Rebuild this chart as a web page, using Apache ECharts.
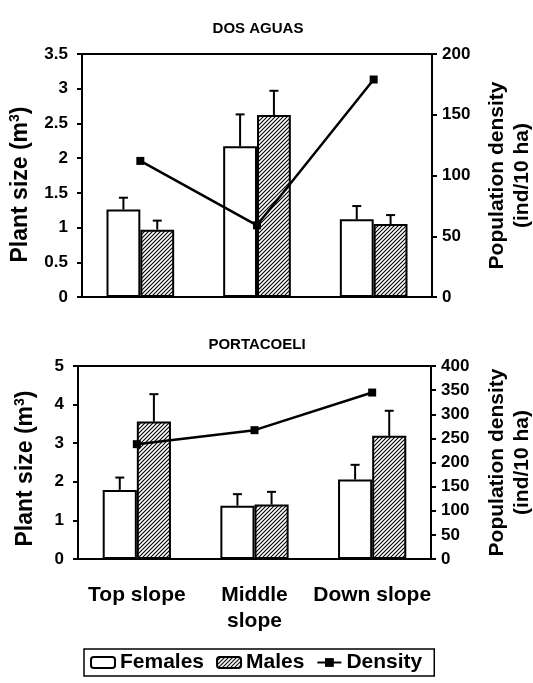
<!DOCTYPE html>
<html>
<head>
<meta charset="utf-8">
<script src="https://cdn.jsdelivr.net/npm/echarts@6/dist/echarts.min.js"></script>
<style>
html,body{margin:0;padding:0;background:#fff;}
#chart{width:533px;height:683px;}
</style>
</head>
<body>
<div id="chart"></div>
<script>
// ---- data ----
const categories = ['Top slope', 'Middle\nslope', 'Down slope'];
const sizeTicksTop = [0, 3.5, 0.5];     // min, max, interval
const densTicksTop = [0, 200, 50];
const sizeTicksBottom = [0, 5, 1];
const densTicksBottom = [0, 400, 50];

const dosFemales   = [1.26, 2.17, 1.12];
const dosFemalesSE = [0.17, 0.46, 0.19];
const dosMales     = [0.97, 2.62, 1.05];
const dosMalesSE   = [0.13, 0.35, 0.13];
const dosDensity   = [112, 59, 179];

const portaFemales   = [1.79, 1.38, 2.06];
const portaFemalesSE = [0.32, 0.30, 0.38];
const portaMales     = [3.56, 1.41, 3.19];
const portaMalesSE   = [0.71, 0.33, 0.65];
const portaDensity   = [238, 267, 345];

// ---- style ----
const FONT = '"Liberation Sans", Arial, Helvetica, sans-serif';
const BAR_PCT = 0.29;

function makeHatch() {
  const s = 4;
  const c = document.createElement('canvas');
  c.width = s; c.height = s;
  const g = c.getContext('2d');
  g.fillStyle = '#fff';
  g.fillRect(0, 0, s, s);
  g.strokeStyle = '#000';
  g.lineWidth = 1.1;
  g.beginPath();
  g.moveTo(0, s); g.lineTo(s, 0);
  g.moveTo(-1, 1); g.lineTo(1, -1);
  g.moveTo(s - 1, s + 1); g.lineTo(s + 1, s - 1);
  g.stroke();
  return c;
}
const hatch = { image: makeHatch(), repeat: 'repeat' };

function errData(vals, se) {
  return vals.map((v, i) => [i, v, v + se[i]]);
}
function errSeries(name, xi, yi, vals, se, side) {
  return {
    type: 'custom',
    name: name + '_err',
    xAxisIndex: xi, yAxisIndex: yi,
    z: 4,
    silent: true,
    data: errData(vals, se),
    renderItem: function (params, api) {
      const base = api.coord([api.value(0), api.value(1)]);
      const top = api.coord([api.value(0), api.value(2)]);
      const band = api.size([1, 0])[0];
      const bw = band * BAR_PCT;
      const x = base[0] + side * bw / 2;
      const st = { stroke: '#000', lineWidth: 2 };
      return {
        type: 'group',
        children: [
          { type: 'line', shape: { x1: x, y1: base[1], x2: x, y2: top[1] }, style: st },
          { type: 'line', shape: { x1: x - 4.5, y1: top[1], x2: x + 4.5, y2: top[1] }, style: st }
        ]
      };
    }
  };
}

function yAxis(gi, pos, ticks, name, gap, nameSize, namePad) {
  return {
    type: 'value', gridIndex: gi, position: pos,
    min: ticks[0], max: ticks[1], interval: ticks[2],
    axisLine: { show: true, lineStyle: { color: '#000', width: 2 } },
    axisTick: { show: true, inside: false, length: 5, lineStyle: { color: '#000', width: 2 } },
    axisLabel: { color: '#000', fontSize: 17, fontWeight: 'bold', fontFamily: FONT, margin: pos === 'left' ? 14 : 10 },
    splitLine: { show: false },
    name: name, nameLocation: 'middle', nameGap: gap, nameRotate: 90,
    nameTextStyle: {
      color: '#000', fontSize: nameSize, fontWeight: 'bold', fontFamily: FONT, lineHeight: 25,
      padding: namePad || 0,
      rich: { sup: { fontSize: 14, fontWeight: 'bold', fontFamily: FONT, color: '#000', padding: [0, 0, 11, 0] } }
    }
  };
}

function xAxis(gi, showLabel) {
  return {
    type: 'category', gridIndex: gi, data: categories,
    axisLine: { show: true, lineStyle: { color: '#000', width: 2 } },
    axisTick: { show: false },
    axisLabel: { show: showLabel, color: '#000', fontSize: 21, fontWeight: 'bold', fontFamily: FONT, margin: 23, lineHeight: 26, interval: 0 },
    splitLine: { show: false }
  };
}

const femaleStyle = { color: '#fff', borderColor: '#000', borderWidth: 2 };
const maleStyle = { color: hatch, borderColor: '#000', borderWidth: 2 };
const lineStyleD = { color: '#000', width: 2.5 };

const chart = echarts.init(document.getElementById('chart'), null, { renderer: 'canvas' });
chart.setOption({
  backgroundColor: '#fff',
  animation: false,
  title: [
    { text: 'DOS AGUAS', left: 253, top: 16, textAlign: 'center',
      textStyle: { color: '#000', fontSize: 15, fontWeight: 'bold', fontFamily: FONT } },
    { text: 'PORTACOELI', left: 252, top: 332, textAlign: 'center',
      textStyle: { color: '#000', fontSize: 15, fontWeight: 'bold', fontFamily: FONT } }
  ],
  legend: {
    data: ['Females', 'Males', 'Density'],
    left: 84, top: 649,
    orient: 'horizontal',
    itemWidth: 24, itemHeight: 11, itemGap: 12,
    padding: [3, 12, 3, 6],
    borderColor: '#000', borderWidth: 1.5,
    textStyle: { color: '#000', fontSize: 21, fontWeight: 'bold', fontFamily: FONT }
  },
  grid: [
    { left: 82, right: 101, top: 54, height: 243, show: true, borderColor: '#000', borderWidth: 2, backgroundColor: 'transparent', containLabel: false, outerBoundsMode: 'none' },
    { left: 78, right: 102, top: 366, height: 193, show: true, borderColor: '#000', borderWidth: 2, backgroundColor: 'transparent', containLabel: false, outerBoundsMode: 'none' }
  ],
  xAxis: [xAxis(0, false), xAxis(1, true)],
  yAxis: [
    yAxis(0, 'left', sizeTicksTop, 'Plant size (m{sup|3})', 42, 23, [0, 18, 0, 0]),
    yAxis(0, 'right', densTicksTop, 'Population density\n(ind/10 ha)', 53, 21),
    yAxis(1, 'left', sizeTicksBottom, 'Plant size (m{sup|3})', 40, 23, [0, 12, 0, 0]),
    yAxis(1, 'right', densTicksBottom, 'Population density\n(ind/10 ha)', 54, 21)
  ],
  series: [
    { name: 'Females', type: 'bar', xAxisIndex: 0, yAxisIndex: 0, data: dosFemales, barWidth: (BAR_PCT * 100) + '%', barGap: '0%', itemStyle: femaleStyle, z: 2 },
    { name: 'Males', type: 'bar', xAxisIndex: 0, yAxisIndex: 0, data: dosMales, barWidth: (BAR_PCT * 100) + '%', barGap: '0%', itemStyle: maleStyle, z: 2 },
    errSeries('Females', 0, 0, dosFemales, dosFemalesSE, -1),
    errSeries('Males', 0, 0, dosMales, dosMalesSE, 1),
    { name: 'Density', type: 'line', xAxisIndex: 0, yAxisIndex: 1, data: dosDensity, symbol: 'rect', symbolSize: 8, lineStyle: lineStyleD, itemStyle: { color: '#000' }, z: 6 },

    { name: 'Females', type: 'bar', xAxisIndex: 1, yAxisIndex: 2, data: portaFemales, barWidth: (BAR_PCT * 100) + '%', barGap: '0%', itemStyle: femaleStyle, z: 2 },
    { name: 'Males', type: 'bar', xAxisIndex: 1, yAxisIndex: 2, data: portaMales, barWidth: (BAR_PCT * 100) + '%', barGap: '0%', itemStyle: maleStyle, z: 2 },
    errSeries('Females', 1, 2, portaFemales, portaFemalesSE, -1),
    errSeries('Males', 1, 2, portaMales, portaMalesSE, 1),
    { name: 'Density', type: 'line', xAxisIndex: 1, yAxisIndex: 3, data: portaDensity, symbol: 'rect', symbolSize: 8, lineStyle: lineStyleD, itemStyle: { color: '#000' }, z: 6 }
  ]
});
</script>
</body>
</html>
